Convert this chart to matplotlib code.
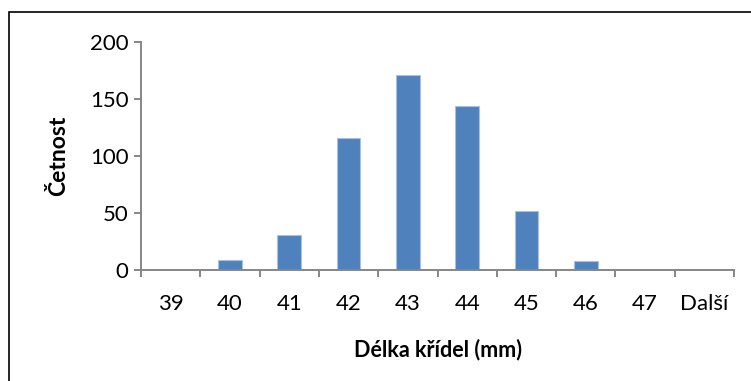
"""Histogram: wing length frequencies (Excel-style)."""
import matplotlib
matplotlib.use("Agg")
import matplotlib.pyplot as plt
import numpy as np
from matplotlib.patches import Rectangle

categories = ["39", "40", "41", "42", "43", "44", "45", "46", "47", "Další"]
counts = [0, 9, 31, 116, 171, 144, 52, 8, 0, 0]
y_ticks = [0, 50, 100, 150, 200]

BAR = "#4F81BD"
AXIS = "#868686"

plt.rcParams["font.family"] = ["Lato", "DejaVu Sans"]


def main():
    fig = plt.figure(figsize=(7.51, 3.81), dpi=100)
    ax = fig.add_axes([141 / 751, 1 - 270 / 381, 593 / 751, (270 - 41.7) / 381])

    x = np.arange(len(categories))
    ax.bar(x, counts, width=0.4, color=BAR, edgecolor="#A9C0E0", linewidth=0.8)

    ax.set_xlim(-0.5, len(categories) - 0.5)
    ax.set_ylim(0, 200)
    ax.set_yticks(y_ticks)
    ax.set_yticklabels([str(v) for v in y_ticks], fontsize=16)

    # category labels centred, tick marks on the boundaries
    ax.set_xticks(x)
    ax.set_xticklabels(categories, fontsize=16)
    ax.tick_params(axis="x", which="major", length=0, pad=17)
    ax.set_xticks(np.arange(-0.5, len(categories)), minor=True)
    ax.tick_params(axis="x", which="minor", length=5, width=1.4, color=AXIS,
                   direction="out")
    ax.tick_params(axis="y", length=5, width=1.4, color=AXIS, direction="out", pad=4)

    for side in ["top", "right"]:
        ax.spines[side].set_visible(False)
    for side in ["left", "bottom"]:
        ax.spines[side].set_color(AXIS)
        ax.spines[side].set_linewidth(1.4)

    ax.set_xlabel("Délka křídel (mm)", fontsize=15.5, fontweight="bold", labelpad=18)
    ax.set_ylabel("Četnost", fontsize=16.5, fontweight="bold", labelpad=15)

    # outer chart frame
    fig.patches.append(Rectangle((8.5 / 751, -0.1), 1.2, 1 - 12 / 381 + 0.1,
                                 transform=fig.transFigure, fill=False,
                                 edgecolor="black", linewidth=1.2))

    fig.savefig("out.png", dpi=100)


if __name__ == "__main__":
    main()
